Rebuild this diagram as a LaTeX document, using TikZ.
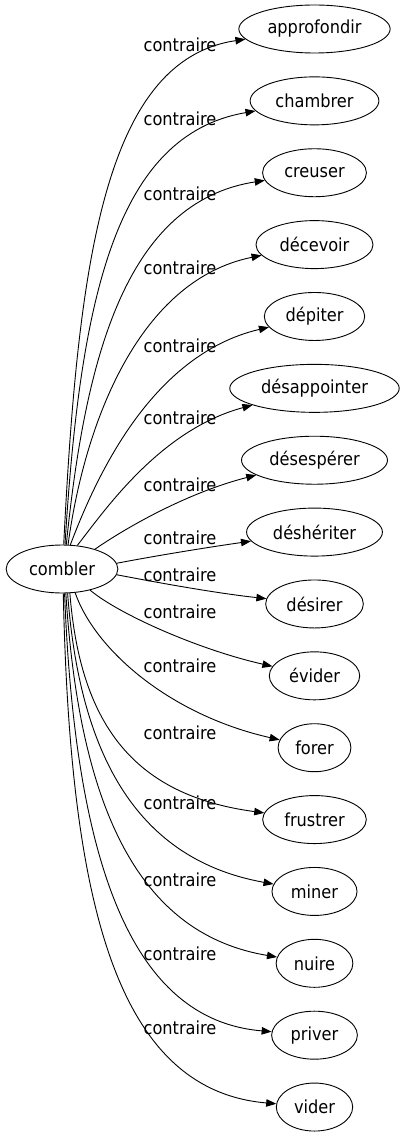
\documentclass[tikz,border=0pt]{standalone}
\usepackage{fontspec}
\setmainfont{DejaVu Sans Condensed}
\usetikzlibrary{arrows.meta, shapes.geometric}

\begin{document}
\begin{tikzpicture}[x=1pt, y=-1pt,
                    word/.style={draw, ellipse, line width=0.9pt, minimum height=48pt, inner xsep=6.5pt, inner ysep=2pt, font=\fontsize{18}{20}\selectfont},
                    rel/.style={inner sep=0pt, font=\fontsize{18}{20}\selectfont},
                    link/.style={-{Triangle[length=10pt, width=7.5pt]}, line width=0.9pt}]
                \useasboundingbox (0,0) rectangle (402,1139);
                \node[word] (combler) at (62,569) {combler};
                % target / label y / start angle / controls
                \foreach \n/\w/\ly/\a/\px/\py/\qx/\qy in {
                        1/approfondir/45/86/78/260/105/60,
                        2/chambrer/119/83/80/300/115/135,
                        3/creuser/194/80/85/360/125/202,
                        4/décevoir/268/76/85/420/140/280,
                        5/dépiter/346/71/95/480/150/355,
                        6/désappointer/418/57/105/510/160/430,
                        7/désespérer/485/31/130/525/190/492,
                        8/déshériter/538/6/160/555/210/547,
                        9/désirer/575/-6/160/583/215/593,
                        10/évider/612/-37/120/615/200/650,
                        11/forer/666/-61/95/650/170/715,
                        12/frustrer/733/-72/80/720/130/795,
                        13/miner/803/-77/80/760/140/860,
                        14/nuire/880/-81/80/820/145/935,
                        15/priver/954/-84/75/860/130/1020,
                        16/vider/1028/-87/70/900/115/1090}{
                        \node[word] (t\n) at (314.5, {29+71.87*(\n-1)}) {\w};
                        \node[rel] (l\n) at (180,\ly) {contraire};
                        \draw[link] (combler.\a) .. controls (\px,\py) and (\qx,\qy) .. (t\n);
                    }
            \end{tikzpicture}
\end{document}
